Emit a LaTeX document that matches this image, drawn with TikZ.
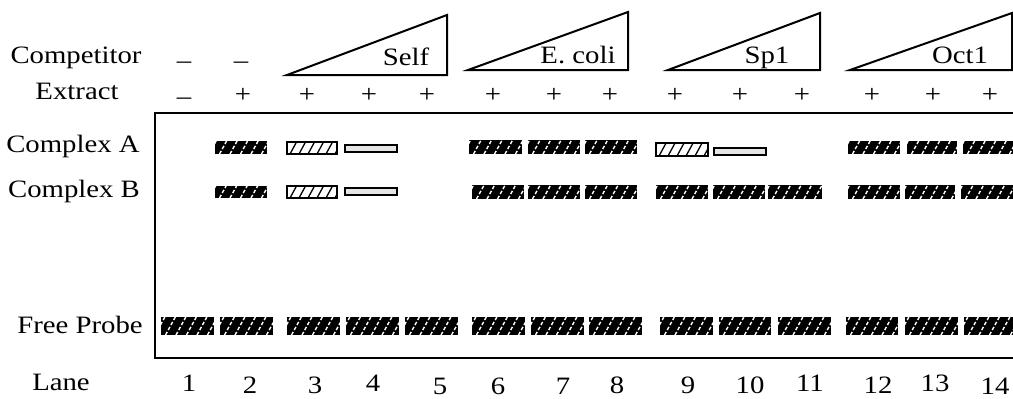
\documentclass[tikz,border=0pt]{standalone}
\usepackage{fontspec}
\setmainfont{Liberation Serif}[FakeStretch=1.15]
\begin{document}
\begin{tikzpicture}[x=1pt,y=-1pt,
  txt/.style={anchor=base,inner sep=0pt,font=\fontsize{25}{29}\selectfont},
  wedge/.style={draw=black,line width=2pt,line join=miter},
  gelbox/.style={draw=black,line width=2pt},
  lightbox/.style={draw=black,line width=1.5pt,fill=white},
  emptybox/.style={draw=black,line width=1.5pt,fill=black!10},
  whitestripe/.style={white,line width=1.4pt,dash pattern=on 3.5pt off 2.2pt},
  blackstripe/.style={black,line width=1.3pt}]
\useasboundingbox (0,0) rectangle (1013,399);
\clip (0,0) rectangle (1013,399);
\newcommand{\darkband}[4]{%
  \fill[black] (#1,#3) rectangle (#2,#4);
  \begin{scope}
    \clip (#1,#3) rectangle (#2,#4);
    \foreach \s in {0,10.5,...,70} \draw[whitestripe] ({#1+\s-6},#4) -- ++(12,-22);
  \end{scope}}
\newcommand{\lightband}[4]{%
  \filldraw[lightbox] (#1,#3) rectangle (#2,#4);
  \begin{scope}
    \clip (#1,#3) rectangle (#2,#4);
    \foreach \s in {0,9,...,70} \draw[blackstripe] ({#1+\s-6},#4) -- ++(12,-22);
  \end{scope}
  \draw[black,line width=1.5pt] (#1,#3) rectangle (#2,#4);}
% wedges
\draw[wedge] (287,75) -- (447,15) -- (447,75) -- cycle;
\draw[wedge] (468,70) -- (628,12) -- (628,70) -- cycle;
\draw[wedge] (668,70) -- (820,13) -- (820,70) -- cycle;
\draw[wedge] (850,70) -- (1012,13) -- (1012,70) -- cycle;
\node[txt] (self) at (406,65) {Self};
\node[txt] (ecoli) at (578,63) {E. coli};
\node[txt] (sp1) at (767,63) {Sp1};
\node[txt] (oct1) at (960,63) {Oct1};
% row labels
\node[txt] (comp) at (76,63) {Competitor};
\node[txt] (extr) at (77,99) {Extract};
\node[txt] (cA) at (73,152) {Complex A};
\node[txt] (cB) at (74,197) {Complex B};
\node[txt] (fp) at (80,333) {Free Probe};
\node[txt] (lane) at (61,390) {Lane};
% competitor / extract signs
\node[txt] (c1) at (184,68) {–};
\node[txt] (c2) at (241,68) {–};
\node[txt] (e1) at (184,104) {–};
\foreach \x [count=\i from 2] in {243,307,369,427,493,554,610,675,740,802,872,933,990}
  \node[txt] (e\i) at (\x,102) {+};
% lane numbers
\foreach \x/\yb [count=\i] in {189/391,250/393,315/393,373/391,440/394,498/394,563/394,617/393,688/393,750/393,810/391,878/393,935/391,995/394}
  \node[txt] (n\i) at (\x,\yb) {\i};
% gel box
\draw[gelbox] (1020,113) -- (155,113) -- (155,358) -- (1020,358);
% complex A
\darkband{215}{267}{141}{154}
\lightband{287}{337}{142}{154}
\filldraw[emptybox] (345,145) rectangle (397,152);
\darkband{469}{522}{140}{154}
\darkband{528}{580}{140}{154}
\darkband{585}{637}{140}{154}
\lightband{656}{708}{143}{156}
\filldraw[emptybox] (714,148) rectangle (766,155);
\darkband{848}{900}{141}{154}
\darkband{907}{957}{141}{154}
\darkband{963}{1016}{141}{154}
% complex B
\darkband{215}{267}{186}{198}
\lightband{287}{337}{186}{198}
\filldraw[emptybox] (345,188) rectangle (397,195);
\darkband{472}{524}{185}{199}
\darkband{528}{580}{185}{199}
\darkband{585}{637}{185}{199}
\darkband{656}{708}{185}{199}
\darkband{713}{765}{185}{199}
\darkband{768}{822}{185}{199}
\darkband{848}{900}{185}{199}
\darkband{905}{955}{185}{199}
\darkband{961}{1016}{185}{199}
% free probe
\foreach \a/\b in {161/214,220/273,287/340,346/399,405/458,472/525,531/584,589/642,660/713,719/771,778/831,846/898,905/958,964/1017}
  {\darkband{\a}{\b}{317}{335}}
\end{tikzpicture}
\end{document}
